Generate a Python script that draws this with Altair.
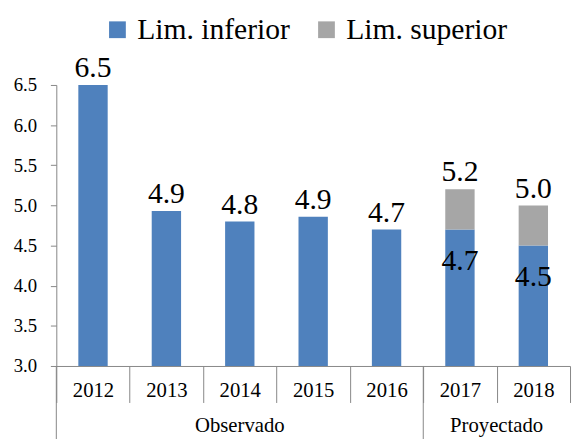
import altair as alt
import pandas as pd

years = ["2012", "2013", "2014", "2015", "2016", "2017", "2018"]
lim_inferior = [6.5, 4.93, 4.8, 4.86, 4.7, 4.7, 4.5]
lim_superior = [None, None, None, None, None, 5.2, 5.0]
labels_inferior = ["6.5", "4.9", "4.8", "4.9", "4.7", "4.7", "4.5"]
labels_superior = [None, None, None, None, None, "5.2", "5.0"]
y_ticks = [3.0, 3.5, 4.0, 4.5, 5.0, 5.5, 6.0, 6.5]
y_min = 3.0
groups = ["Observado", "Proyectado"]

FONT = "Liberation Serif"
BLUE = "#4F81BD"
GREY = "#A6A6A6"
AXIS = "#868686"
W, H = 521, 285

rows = []
for yr, lo, hi, llo, lhi in zip(years, lim_inferior, lim_superior, labels_inferior, labels_superior):
    rows.append({"year": yr, "serie": "Lim. inferior", "top": lo, "bottom": y_min,
                 "label": llo, "pos": "above" if hi is None else "inside"})
    if hi is not None:
        rows.append({"year": yr, "serie": "Lim. superior", "top": hi, "bottom": lo,
                     "label": lhi, "pos": "above"})
df = pd.DataFrame(rows)

xenc = alt.X("year:N", sort=years,
             scale=alt.Scale(paddingInner=0, paddingOuter=0),
             axis=alt.Axis(title=None, labelAngle=0, tickBand="extent", tickSize=37,
                           tickColor=AXIS, domainColor=AXIS, labelFont=FONT,
                           labelFontSize=21, labelColor="black", labelPadding=-6,
                           labelBaseline="alphabetic"))
yscale = alt.Scale(domain=[3.0, 6.5], zero=False, nice=False)
yaxis = alt.Axis(title=None, values=y_ticks, format=".1f", grid=False,
                 tickSize=6, tickColor=AXIS, domainColor=AXIS,
                 labelFont=FONT, labelFontSize=19, labelColor="black",
                 labelPadding=14)

base = alt.Chart(df)

bars = base.mark_bar(width={"band": 0.4}).encode(
    x=xenc,
    y=alt.Y("top:Q", scale=yscale, axis=yaxis),
    y2="bottom:Q",
    color=alt.Color("serie:N",
                    scale=alt.Scale(domain=["Lim. inferior", "Lim. superior"], range=[BLUE, GREY]),
                    legend=alt.Legend(title=None, orient="none", direction="horizontal",
                                      legendX=47, legendY=-71, symbolType="square",
                                      symbolSize=289, symbolStrokeWidth=0,
                                      labelFont=FONT, labelFontSize=30, labelColor="black",
                                      labelLimit=400, labelOffset=5, columnPadding=22)),
)

above = base.transform_filter(alt.datum.pos == "above").mark_text(
    font=FONT, fontSize=30, baseline="alphabetic", dy=-8, color="black"
).encode(x=alt.X("year:N", sort=years), y=alt.Y("top:Q", scale=yscale), text="label:N")

inside = base.transform_filter(alt.datum.pos == "inside").mark_text(
    font=FONT, fontSize=30, baseline="alphabetic", dy=41, color="black"
).encode(x=alt.X("year:N", sort=years), y=alt.Y("top:Q", scale=yscale), text="label:N")

gdf = pd.DataFrame({"group": groups, "start": [years[0], years[5]],
                    "center_mid": [years[2], None], "center_edge": [None, years[6]]})

sep = alt.Chart(gdf).mark_rule(color=AXIS, strokeWidth=1).encode(
    x=alt.X("start:N", sort=years, bandPosition=0),
    y=alt.value(H), y2=alt.value(H + 90))

g1 = alt.Chart(gdf).transform_filter(alt.datum.group == groups[0]).mark_text(
    font=FONT, fontSize=21, baseline="alphabetic", color="black").encode(
    x=alt.X("center_mid:N", sort=years, bandPosition=0.5),
    y=alt.value(H + 67), text="group:N")

g2 = alt.Chart(gdf).transform_filter(alt.datum.group == groups[1]).mark_text(
    font=FONT, fontSize=21, baseline="alphabetic", color="black").encode(
    x=alt.X("center_edge:N", sort=years, bandPosition=0),
    y=alt.value(H + 67), text="group:N")

chart = alt.layer(bars, above, inside, sep, g1, g2).resolve_scale(x="shared").properties(
    width=W, height=H,
    autosize=alt.AutoSizeParams(type="none"),
    padding={"left": 49, "top": 75, "right": 2, "bottom": 71},
).configure(font=FONT).configure_view(stroke=None)

chart.save("out.html", embed_options={"renderer": "svg", "actions": False})
